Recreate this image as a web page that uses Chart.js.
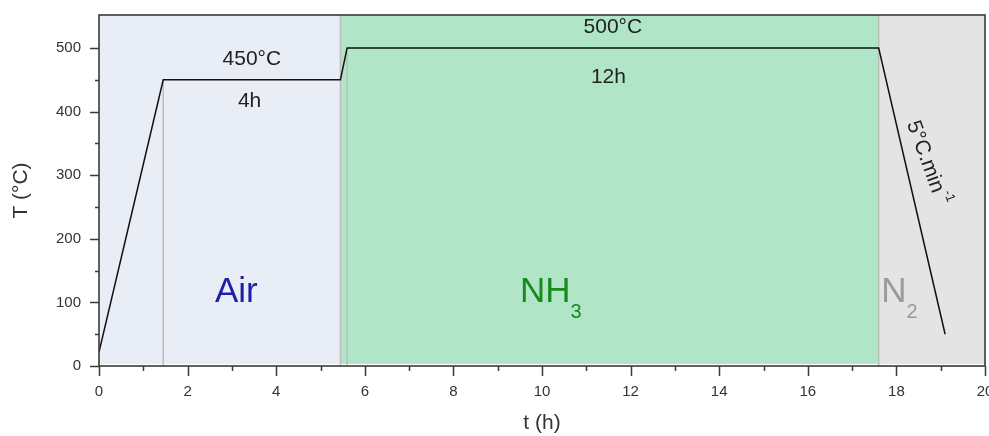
<!DOCTYPE html>
<html><head><meta charset="utf-8">
<script src="https://cdn.jsdelivr.net/npm/chart.js@4/dist/chart.umd.min.js"></script>
<style>html,body{margin:0;padding:0;background:#fff;overflow:hidden}canvas{display:block}</style>
</head><body>
<canvas id="c" width="989" height="436"></canvas>
<script>
// ---- data ----
const timeH = [0, 1.45, 5.45, 5.6, 17.6, 19.1];
const tempC = [22, 450, 450, 500, 500, 50];
const xTicks = [0, 2, 4, 6, 8, 10, 12, 14, 16, 18, 20];
const xMinorTicks = [1, 3, 5, 7, 9, 11, 13, 15, 17, 19];
const yTicks = [0, 100, 200, 300, 400, 500];
const yMinorTicks = [50, 150, 250, 350, 450];
const atmospheres = ['Air', 'NH', 'N'];
const atmSubscripts = ['', '3', '2'];
const atmStart = [0, 5.45, 17.6];
const atmEnd = [5.45, 17.6, 20];
const rampEndTimes = [1.45, 5.6];
const rampEndTemps = [450, 500];
const boundaryTimes = [5.45, 17.6];
const plateauTemps = ['450°C', '500°C'];
const plateauDurations = ['4h', '12h'];
const coolingRate = '5°C.min';
const coolingRateExp = '-1';

// ---- styles ----
const regionColors = ['#E9EDF5', '#B1E5C8', '#E4E4E4'];
const atmTextColors = ['#1E1EA8', '#1A8A1A', '#9A9A9A'];
const FONT = '"Liberation Sans", Arial, sans-serif';
const AX = '#3A3A3A';

const deco = {
  id: 'deco',
  beforeDatasetsDraw(chart) {
    const {ctx, chartArea: a, scales: {x, y}} = chart;
    ctx.save();
    for (let i = 0; i < atmStart.length; i++) {
      const x0 = x.getPixelForValue(atmStart[i]);
      const x1 = x.getPixelForValue(atmEnd[i]);
      ctx.fillStyle = regionColors[i];
      ctx.fillRect(x0, a.top, x1 - x0, a.bottom - a.top - 2);
    }
    ctx.strokeStyle = '#BDBDBD';
    ctx.lineWidth = 1.5;
    for (let i = 0; i < rampEndTimes.length; i++) {
      const px = x.getPixelForValue(rampEndTimes[i]);
      ctx.beginPath(); ctx.moveTo(px, y.getPixelForValue(0)); ctx.lineTo(px, y.getPixelForValue(rampEndTemps[i])); ctx.stroke();
    }
    for (const t of boundaryTimes) {
      const px = x.getPixelForValue(t);
      ctx.beginPath(); ctx.moveTo(px, a.bottom); ctx.lineTo(px, a.top); ctx.stroke();
    }
    ctx.restore();
  },
  afterDatasetsDraw(chart) {
    const {ctx, chartArea: a, scales: {x, y}} = chart;
    ctx.save();
    // frame
    ctx.strokeStyle = AX; ctx.lineWidth = 1.6;
    ctx.strokeRect(a.left, a.top, a.right - a.left, a.bottom - a.top);
    // ticks
    ctx.lineWidth = 1.5;
    ctx.beginPath();
    for (const v of yTicks) { const p = Math.round(y.getPixelForValue(v)) + 0.5; ctx.moveTo(a.left - 9, p); ctx.lineTo(a.left, p); }
    for (const v of yMinorTicks) { const p = Math.round(y.getPixelForValue(v)) + 0.5; ctx.moveTo(a.left - 4, p); ctx.lineTo(a.left, p); }
    for (const v of xTicks) { const p = Math.round(x.getPixelForValue(v)) + 0.5; ctx.moveTo(p, a.bottom); ctx.lineTo(p, a.bottom + 10); }
    for (const v of xMinorTicks) { const p = Math.round(x.getPixelForValue(v)) + 0.5; ctx.moveTo(p, a.bottom); ctx.lineTo(p, a.bottom + 5); }
    ctx.stroke();

    // plateau labels
    ctx.fillStyle = '#222';
    ctx.font = '21px ' + FONT;
    ctx.textAlign = 'center'; ctx.textBaseline = 'middle';
    const plateauX = [3.45, 11.6];
    const durX = [3.4, 11.5];
    for (let i = 0; i < plateauTemps.length; i++) {
      const py = y.getPixelForValue(rampEndTemps[i]);
      ctx.fillText(plateauTemps[i], x.getPixelForValue(plateauX[i]), py - 21);
      ctx.fillText(plateauDurations[i], x.getPixelForValue(durX[i]), py + (i === 0 ? 21 : 29));
    }

    // atmosphere labels
    const atmX = [3.1, 10.2, 18.07];
    const atmY = y.getPixelForValue(116);
    ctx.textAlign = 'left';
    for (let i = 0; i < atmospheres.length; i++) {
      ctx.font = '35px ' + FONT;
      const w1 = ctx.measureText(atmospheres[i]).width;
      ctx.font = '20px ' + FONT;
      const w2 = atmSubscripts[i] ? ctx.measureText(atmSubscripts[i]).width : 0;
      const start = x.getPixelForValue(atmX[i]) - (w1 + w2) / 2;
      ctx.fillStyle = atmTextColors[i];
      ctx.font = '35px ' + FONT;
      ctx.fillText(atmospheres[i], start, atmY);
      if (atmSubscripts[i]) {
        ctx.font = '20px ' + FONT;
        ctx.fillText(atmSubscripts[i], start + w1, atmY + 20);
      }
    }

    // cooling rate label
    ctx.fillStyle = '#222';
    ctx.translate(x.getPixelForValue(18.7), y.getPixelForValue(319));
    ctx.rotate(70 * Math.PI / 180);
    ctx.font = '21px ' + FONT;
    const m1 = ctx.measureText(coolingRate).width;
    ctx.font = '13px ' + FONT;
    const m2 = ctx.measureText(coolingRateExp).width;
    const s = -(m1 + m2 + 2) / 2;
    ctx.font = '21px ' + FONT;
    ctx.fillText(coolingRate, s, 0);
    ctx.font = '13px ' + FONT;
    ctx.fillText(coolingRateExp, s + m1 + 2, -9);
    ctx.restore();
  }
};

new Chart(document.getElementById('c'), {
  type: 'line',
  data: {
    datasets: [{
      data: timeH.map((t, i) => ({x: t, y: tempC[i]})),
      borderColor: '#111',
      borderWidth: 1.5,
      pointRadius: 0,
      tension: 0,
      fill: false
    }]
  },
  options: {
    responsive: false,
    animation: false,
    devicePixelRatio: 1,
    layout: {padding: {top: 15, right: 4, left: 0, bottom: 0}},
    plugins: {legend: {display: false}, tooltip: {enabled: false}},
    scales: {
      x: {
        type: 'linear', min: 0, max: 20,
        afterBuildTicks: s => { s.ticks = xTicks.map(v => ({value: v})); },
        afterFit: s => { s.height = 70; s.paddingLeft = 0; s.paddingRight = 0; },
        grid: {display: false, drawTicks: false},
        border: {display: false},
        ticks: {autoSkip: false, maxRotation: 0, padding: 17, color: '#333', font: {family: FONT, size: 15}},
        title: {display: true, text: 't (h)', color: '#333', font: {family: FONT, size: 21}, padding: {top: 0, bottom: 0}}
      },
      y: {
        type: 'linear', min: 0, max: 552,
        afterBuildTicks: s => { s.ticks = yTicks.map(v => ({value: v})); },
        afterFit: s => { s.width = 99; s.paddingTop = 0; s.paddingBottom = 0; },
        grid: {display: false, drawTicks: false},
        border: {display: false},
        ticks: {autoSkip: false, padding: 18, color: '#333', font: {family: FONT, size: 15}},
        title: {display: true, text: 'T (°C)', color: '#333', font: {family: FONT, size: 21}, padding: {top: 9, bottom: 0}}
      }
    }
  },
  plugins: [deco]
});
</script>
</body></html>
